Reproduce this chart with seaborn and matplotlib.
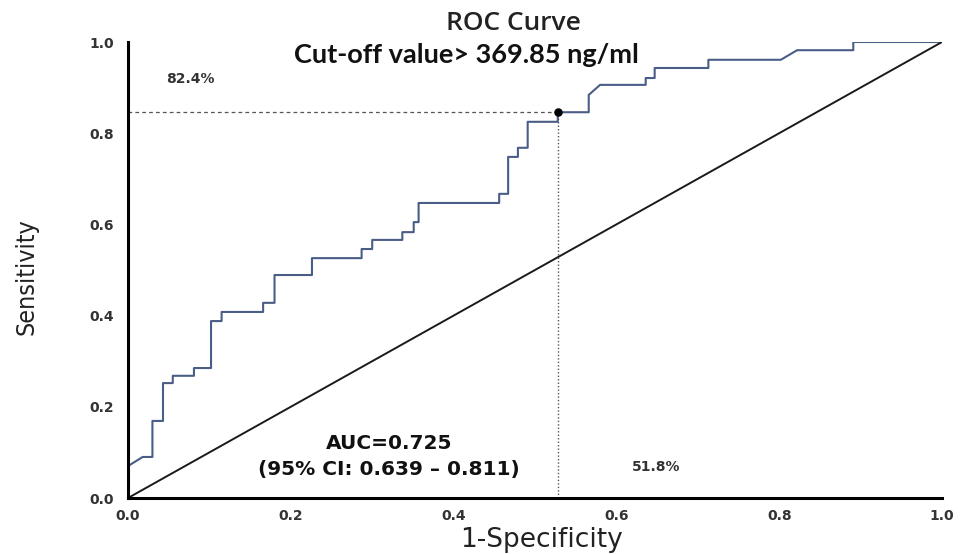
import matplotlib
matplotlib.use("Agg")
import matplotlib.pyplot as plt
from matplotlib import font_manager as fm
import seaborn as sns
import pandas as pd

# ROC curve vertices (1-Specificity, Sensitivity)
fpr = [0.000, 0.018, 0.030, 0.030, 0.043, 0.043, 0.055, 0.055, 0.081, 0.081,
       0.102, 0.102, 0.115, 0.115, 0.166, 0.166, 0.180, 0.180, 0.226, 0.226,
       0.287, 0.287, 0.300, 0.300, 0.337, 0.337, 0.351, 0.351, 0.357, 0.357,
       0.456, 0.456, 0.467, 0.467, 0.479, 0.479, 0.491, 0.491, 0.528, 0.528,
       0.566, 0.566, 0.580, 0.636, 0.636, 0.647, 0.647, 0.713, 0.713, 0.802,
       0.822, 0.891, 0.891, 1.000]
tpr = [0.070, 0.090, 0.090, 0.169, 0.169, 0.252, 0.252, 0.268, 0.268, 0.285,
       0.285, 0.388, 0.388, 0.408, 0.408, 0.428, 0.428, 0.489, 0.489, 0.526,
       0.526, 0.546, 0.546, 0.566, 0.566, 0.583, 0.583, 0.605, 0.605, 0.647,
       0.647, 0.667, 0.667, 0.748, 0.748, 0.768, 0.768, 0.825, 0.825, 0.846,
       0.846, 0.884, 0.906, 0.906, 0.921, 0.921, 0.943, 0.943, 0.961, 0.961,
       0.982, 0.982, 1.000, 1.000]
ref_x = [0.0, 1.0]
ref_y = [0.0, 1.0]
cut_x = 0.528
cut_y = 0.846
ticks = [0.0, 0.2, 0.4, 0.6, 0.8, 1.0]
tick_labels = ["0.0", "0.2", "0.4", "0.6", "0.8", "1.0"]

sns.set_style("white")

# look for an installed narrow / condensed face for the y label
narrow = None
for f in fm.fontManager.ttflist:
    nm = f.name
    st = str(f.stretch).lower()
    if ("Narrow" in nm or "Condensed" in nm or st in ("condensed", "semi-condensed", "extra-condensed")) \
            and f.style == "normal" and str(f.weight) in ("400", "normal", "regular"):
        narrow = f
        break

fig = plt.figure(figsize=(9.62, 5.54), dpi=100)
ax = fig.add_axes([128/962, 56/554, 814/962, 456/554])

df = pd.DataFrame({"fpr": fpr, "tpr": tpr})
sns.lineplot(data=df, x="fpr", y="tpr", sort=False, estimator=None,
             color="#4a5d86", linewidth=1.5, ax=ax)
sns.lineplot(x=ref_x, y=ref_y, sort=False, estimator=None,
             color="#1a1a1a", linewidth=1.4, ax=ax)

ax.plot([0, cut_x], [cut_y, cut_y], linestyle=(0, (3, 2.5)), color="#555555", linewidth=0.9)
ax.plot([cut_x, cut_x], [0, cut_y], linestyle=(0, (1, 1.5)), color="#555555", linewidth=1.0)
ax.scatter([cut_x], [cut_y], s=26, color="black", zorder=5)

ax.set_xlim(0, 1.0)
ax.set_ylim(0, 1.0)
ax.set_xticks(ticks)
ax.set_xticklabels(tick_labels)
ax.set_yticks(ticks)
ax.set_yticklabels(tick_labels)
ax.tick_params(axis="both", length=0, labelsize=10, labelcolor="#333333")
for lbl in ax.get_xticklabels() + ax.get_yticklabels():
    lbl.set_fontweight("bold")
ax.tick_params(axis="x", pad=8)
ax.tick_params(axis="y", pad=10)
for s in ["top", "right"]:
    ax.spines[s].set_visible(False)
for s in ["left", "bottom"]:
    ax.spines[s].set_color("black")
    ax.spines[s].set_linewidth(2.2)
ax.set_xlabel("")
ax.set_ylabel("")

fig.text(513/962, 1 - 30/554, "ROC Curve", ha="center", va="baseline",
         fontsize=19, family=["Open Sans", "DejaVu Sans"], fontweight="semibold", color="#222222")
fig.text(466/962, 1 - 63/554, "Cut-off value> 369.85 ng/ml", ha="center", va="baseline",
         fontsize=19.5, fontweight="bold", family=["Lato", "DejaVu Sans"], color="#111111")
fig.text(190/962, 1 - 79/554, "82.4%", ha="center", va="center",
         fontsize=10, fontweight="bold", color="#333333")
fig.text(656/962, 1 - 467/554, "51.8%", ha="center", va="center",
         fontsize=10, fontweight="bold", color="#333333")
fig.text(389/962, 1 - 449/554, "AUC=0.725", ha="center", va="baseline",
         fontsize=14.5, fontweight="bold", color="#111111")
fig.text(389/962, 1 - 475/554, "(95% CI: 0.639 \u2013 0.811)", ha="center", va="baseline",
         fontsize=14.5, fontweight="bold", color="#111111")
fig.text(542/962, 1 - 540/554, "1-Specificity", ha="center", va="center",
         fontsize=19, color="#222222")
if narrow is not None:
    fig.text(27/962, 1 - 277/554, "Sensitivity", ha="center", va="center", rotation=90,
             fontsize=18, fontproperties=fm.FontProperties(fname=narrow.fname, size=18),
             color="#222222")
else:
    fig.text(27/962, 1 - 277/554, "Sensitivity", ha="center", va="center", rotation=90,
             fontsize=15, family=["Roboto", "DejaVu Sans"], color="#222222")

fig.savefig("out.png", dpi=100)
